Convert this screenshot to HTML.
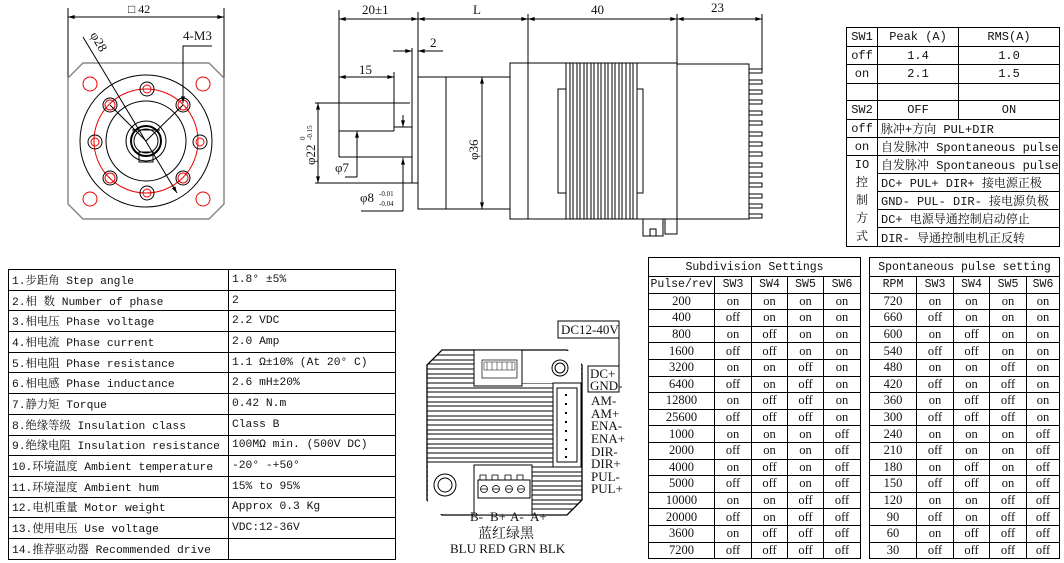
<!DOCTYPE html>
<html><head><meta charset="utf-8"><style>
body{margin:0;width:1064px;height:563px;background:#fff;position:relative;overflow:hidden;font-family:"Liberation Mono","Noto Serif CJK SC",monospace;}
table{position:absolute;border-collapse:collapse;table-layout:fixed;}
td{border:1px solid #000;padding:0;white-space:nowrap;overflow:hidden;color:#111;}
.sp td{font-size:11.3px;padding-left:3px;height:19.7px;}
.tr td{font-size:12px;text-align:center;}
.sub td{text-align:center;height:15.6px;font-family:"Liberation Serif","Noto Serif CJK SC",serif;font-size:12.5px;}
.sub tr.h td{font-family:"Liberation Mono",monospace;font-size:11.5px;}
svg{position:absolute;left:0;top:0;}
svg text{font-family:"Liberation Serif","Noto Serif CJK SC",serif;fill:#111;}
</style></head><body>
<svg width="1064" height="563" viewBox="0 0 1064 563">
<defs>
<marker id="a" viewBox="0 0 10 6" refX="10" refY="3" markerWidth="8" markerHeight="4" orient="auto-start-reverse"><path d="M0,0L10,3L0,6z" fill="#000"/></marker>
<clipPath id="drv"><path d="M442,350H567L582,365V500L567,515H442L427,500V365Z"/></clipPath>
</defs>
<g stroke="#000" fill="none" stroke-width="1">
<line x1="68" y1="8" x2="68" y2="78"/><line x1="224" y1="8" x2="224" y2="78"/>
<line x1="68" y1="17" x2="224" y2="17" marker-start="url(#a)" marker-end="url(#a)"/>
<path d="M83,63H209L224,78V204L209,219H83L68,204V78Z" stroke="#888" stroke-width="1.5"/>
<circle cx="146" cy="141" r="66"/><circle cx="146" cy="141" r="40"/>
<circle cx="146" cy="141" r="52" stroke="#e00"/>
<circle cx="146" cy="141" r="20"/><circle cx="146" cy="141" r="15" stroke-width="2"/><circle cx="146" cy="141" r="12"/>
<rect x="139" y="152" width="14" height="10"/>
<g stroke="#e00"><circle cx="90" cy="84" r="7"/><circle cx="203" cy="84" r="7"/><circle cx="90" cy="199" r="7"/><circle cx="203" cy="199" r="7"/>
<circle cx="110" cy="105" r="5"/><circle cx="183" cy="105" r="5"/><circle cx="110" cy="178" r="5"/><circle cx="183" cy="178" r="5"/>
<circle cx="147" cy="89" r="4"/><circle cx="147" cy="193" r="4"/><circle cx="95" cy="142" r="4"/><circle cx="200" cy="142" r="4"/></g>
<circle cx="110" cy="105" r="7"/><circle cx="183" cy="105" r="7"/><circle cx="110" cy="178" r="7"/><circle cx="183" cy="178" r="7"/>
<circle cx="147" cy="89" r="7"/><circle cx="147" cy="193" r="7"/><circle cx="95" cy="142" r="7"/><circle cx="200" cy="142" r="7"/>
<line x1="83" y1="37" x2="177" y2="193" marker-end="url(#a)"/>
<line x1="110" y1="105" x2="146" y2="141"/><line x1="183" y1="105" x2="146" y2="141"/><line x1="132" y1="130" x2="160" y2="130"/>
<path d="M212,46H183V103" marker-end="url(#a)"/>
<line x1="339" y1="10" x2="339" y2="157"/><line x1="418" y1="12" x2="418" y2="209"/><line x1="528" y1="14" x2="528" y2="219"/><line x1="677" y1="14" x2="677" y2="219"/><line x1="762" y1="14" x2="762" y2="69"/>
<line x1="339" y1="19" x2="418" y2="19" marker-start="url(#a)" marker-end="url(#a)"/>
<line x1="418" y1="19" x2="528" y2="19" marker-start="url(#a)" marker-end="url(#a)"/>
<line x1="528" y1="19" x2="677" y2="19" marker-start="url(#a)" marker-end="url(#a)"/>
<line x1="677" y1="19" x2="762" y2="19" marker-start="url(#a)" marker-end="url(#a)"/>
<line x1="393" y1="51" x2="412" y2="51" marker-end="url(#a)"/><line x1="443" y1="51" x2="418" y2="51" marker-end="url(#a)"/>
<line x1="412" y1="48" x2="412" y2="183"/>
<line x1="339" y1="77" x2="394" y2="77" marker-start="url(#a)" marker-end="url(#a)"/>
<line x1="394" y1="72" x2="394" y2="131"/>
<line x1="330" y1="103" x2="410" y2="103"/><line x1="339" y1="131" x2="394" y2="131"/><line x1="339" y1="157" x2="412" y2="157"/><line x1="330" y1="183" x2="418" y2="183"/>
<line x1="357" y1="160" x2="357" y2="131" marker-end="url(#a)"/><line x1="357" y1="160" x2="357" y2="177"/><line x1="345" y1="177" x2="357" y2="177"/>
<line x1="403" y1="115" x2="403" y2="127" marker-end="url(#a)"/><line x1="403" y1="211" x2="403" y2="158" marker-end="url(#a)"/><line x1="361" y1="211" x2="403" y2="211"/>
<line x1="394" y1="127" x2="412" y2="127"/>
<line x1="318" y1="103" x2="318" y2="183" marker-start="url(#a)" marker-end="url(#a)"/><line x1="315" y1="103" x2="330" y2="103"/><line x1="315" y1="183" x2="330" y2="183"/>
<rect x="418" y="77" width="92" height="132"/><line x1="446" y1="77" x2="446" y2="209"/>
<line x1="482" y1="77" x2="482" y2="209" marker-start="url(#a)" marker-end="url(#a)"/>
<rect x="510" y="63" width="167" height="156"/>
<path d="M566,63V219M570,63V219M573,63V219M577,63V219M580,63V219M584,63V219M587,63V219M591,63V219M594,63V219M598,63V219M601,63V219M605,63V219M608,63V219M612,63V219M615,63V219M619,63V219M622,63V219M626,63V219M630,63V219M633,63V219M637,63V219"/>
<rect x="558" y="89" width="8" height="104"/><rect x="637" y="89" width="6" height="104"/>
<rect x="677" y="64" width="72" height="155"/>
<path d="M749,69h13v4h-13M749,80h13v4h-13M749,90h13v4h-13M749,100h13v4h-13M749,111h13v4h-13M749,121h13v4h-13M749,132h13v4h-13M749,142h13v4h-13M749,152h13v4h-13M749,163h13v4h-13M749,173h13v4h-13M749,183h13v4h-13M749,194h13v4h-13M749,204h13v4h-13M749,214h13v4h-13"/>
<path d="M643,219V236H663V219M650,236V229H656V236"/><rect x="665" y="219" width="12" height="15"/>
<path d="M442,350H567L582,365V500L567,515H442L427,500V365Z" stroke-width="1.3"/>
<g clip-path="url(#drv)" stroke-width="0.9">
<path d="M427,355H582M427,360H582M427,364H582M427,369H582M427,374H582M427,378H582M427,383H582M427,388H582M427,392H582M427,397H582M427,402H582M427,406H582M427,411H582M427,416H582M427,420H582M427,425H582M427,430H582M427,434H582M427,439H582M427,444H582M427,448H582M427,453H582M427,458H582M427,462H582M427,467H582M427,472H582M427,476H582M427,481H582M427,486H582M427,490H582M427,495H582M427,500H582M427,504H582M427,509H582"/>
</g>
<rect x="522" y="351" width="59" height="32" fill="#fff" stroke="none"/>
<rect x="428" y="465" width="46" height="49" fill="#fff" stroke="none"/>
<rect x="474" y="350" width="48" height="36" fill="#fff"/>
<rect x="482" y="360" width="35" height="18" fill="#fff" stroke-width="0.7"/>
<path d="M484,362h31v8h-31z" stroke-width="0.5"/>
<path d="M487,362v8M492,362v8M497,362v8M502,362v8M507,362v8M512,362v8" stroke-width="0.5"/>
<rect x="474" y="465" width="58" height="50" fill="#fff"/>
<rect x="478" y="480" width="52" height="18"/>
<path d="M480,480v-5h6v5M492,480v-5h6v5M505,480v-5h6v5M517,480v-5h6v5" stroke-width="0.8"/>
<g stroke-width="0.8"><circle cx="484" cy="489" r="3.5"/><circle cx="496" cy="489" r="3.5"/><circle cx="509" cy="489" r="3.5"/><circle cx="521" cy="489" r="3.5"/>
<path d="M481,489h6M493,489h6M506,489h6M518,489h6"/></g>
<circle cx="560" cy="368" r="8"/><circle cx="560" cy="368" r="5"/>
<circle cx="445" cy="485" r="11"/><circle cx="445" cy="485" r="7"/>
<rect x="553" y="383" width="28" height="84" fill="#fff"/><rect x="557" y="388" width="20" height="74"/>
<path d="M566,394v2M566,403v2M566,412v2M566,421v2M566,430v2M566,439v2M566,448v2M566,456v2" stroke-width="2"/>
<rect x="558" y="321" width="61" height="17"/><line x1="619" y1="338" x2="619" y2="366"/>
<rect x="588" y="366" width="31" height="26"/>
</g>
<g font-size="13">
<text x="128" y="13" font-size="12">□ 42</text>
<text x="0" y="0" transform="translate(90,35) rotate(60)">φ28</text>
<text x="183" y="40">4-M3</text>
<text x="362" y="14">20±1</text><text x="473" y="14">L</text><text x="591" y="14">40</text><text x="711" y="12">23</text>
<text x="430" y="47">2</text><text x="359" y="74">15</text>
<text x="335" y="172">φ7</text>
<text x="360" y="202">φ8</text><text x="379" y="196" font-size="7">-0.01</text><text x="379" y="206" font-size="7">-0.04</text>
<text transform="translate(478,160) rotate(-90)">φ36</text>
<text transform="translate(315,165) rotate(-90)">φ22</text><text transform="translate(305,140) rotate(-90)" font-size="7">0</text><text transform="translate(312,140) rotate(-90)" font-size="7">-0.15</text>
<text x="561" y="334" font-size="13">DC12-40V</text>
<g font-size="13"><text x="590" y="378">DC+</text><text x="590" y="390">GND-</text>
<text x="591" y="405">AM-</text><text x="591" y="418">AM+</text><text x="591" y="430">ENA-</text><text x="591" y="443">ENA+</text><text x="591" y="456">DIR-</text><text x="591" y="468">DIR+</text><text x="591" y="481">PUL-</text><text x="591" y="493">PUL+</text>
<text x="470" y="521">B-</text><text x="490" y="521">B+</text><text x="510" y="521">A-</text><text x="530" y="521">A+</text>
<text x="478" y="538" font-size="14">蓝红绿黑</text>
<text x="450" y="553">BLU RED GRN BLK</text></g>
</g>
</svg>

<table class="tr" style="left:846px;top:27px;width:213px;">
<colgroup><col style="width:31px"><col style="width:81px"><col style="width:101px"></colgroup>
<tr style="height:19px"><td>SW1</td><td>Peak (A)</td><td>RMS(A)</td></tr>
<tr style="height:18px"><td>off</td><td>1.4</td><td>1.0</td></tr>
<tr style="height:19px"><td>on</td><td>2.1</td><td>1.5</td></tr>
<tr style="height:17px"><td></td><td></td><td></td></tr>
<tr style="height:19px"><td>SW2</td><td>OFF</td><td>ON</td></tr>
<tr style="height:18px"><td>off</td><td colspan="2" style="text-align:left;padding-left:3px">脉冲+方向 PUL+DIR</td></tr>
<tr style="height:18px"><td>on</td><td colspan="2" style="text-align:left;padding-left:3px">自发脉冲 Spontaneous pulse</td></tr>
<tr style="height:18px"><td rowspan="5" style="line-height:18px;white-space:normal">IO<br>控<br>制<br>方<br>式</td><td colspan="2" style="text-align:left;padding-left:3px">自发脉冲 Spontaneous pulse</td></tr>
<tr style="height:18px"><td colspan="2" style="text-align:left;padding-left:3px">DC+  PUL+ DIR+ 接电源正极</td></tr>
<tr style="height:18px"><td colspan="2" style="text-align:left;padding-left:3px">GND- PUL- DIR- 接电源负极</td></tr>
<tr style="height:18px"><td colspan="2" style="text-align:left;padding-left:3px">DC+  电源导通控制启动停止</td></tr>
<tr style="height:19px"><td colspan="2" style="text-align:left;padding-left:3px">DIR- 导通控制电机正反转</td></tr>
</table>

<table class="sp" style="left:8px;top:269px;width:387px;">
<colgroup><col style="width:220px"><col style="width:167px"></colgroup>
<tr><td>1.步距角 Step angle</td><td>1.8° ±5%</td></tr>
<tr><td>2.相  数 Number of phase</td><td>2</td></tr>
<tr><td>3.相电压 Phase voltage</td><td>2.2 VDC</td></tr>
<tr><td>4.相电流 Phase current</td><td>2.0 Amp</td></tr>
<tr><td>5.相电阻 Phase resistance</td><td>1.1 Ω±10% (At 20° C)</td></tr>
<tr><td>6.相电感 Phase inductance</td><td>2.6 mH±20%</td></tr>
<tr><td>7.静力矩 Torque</td><td>0.42 N.m</td></tr>
<tr><td>8.绝缘等级 Insulation class</td><td>Class B</td></tr>
<tr><td>9.绝缘电阻 Insulation resistance</td><td>100MΩ min. (500V DC)</td></tr>
<tr><td>10.环境温度 Ambient temperature</td><td>-20° -+50°</td></tr>
<tr><td>11.环境湿度 Ambient hum</td><td>15% to 95%</td></tr>
<tr><td>12.电机重量 Motor weight</td><td>Approx 0.3 Kg</td></tr>
<tr><td>13.使用电压 Use voltage</td><td>VDC:12-36V</td></tr>
<tr><td>14.推荐驱动器 Recommended drive</td><td></td></tr>
</table>

<table class="sub" style="left:648px;top:257px;width:212px;">
<colgroup><col style="width:66px"><col style="width:37px"><col style="width:36px"><col style="width:36px"><col style="width:37px"></colgroup>
<tr class="h" style="height:19px"><td colspan="5">Subdivision Settings</td></tr>
<tr class="h"><td>Pulse/rev</td><td>SW3</td><td>SW4</td><td>SW5</td><td>SW6</td></tr>
<tr><td>200</td><td>on</td><td>on</td><td>on</td><td>on</td></tr>
<tr><td>400</td><td>off</td><td>on</td><td>on</td><td>on</td></tr>
<tr><td>800</td><td>on</td><td>off</td><td>on</td><td>on</td></tr>
<tr><td>1600</td><td>off</td><td>off</td><td>on</td><td>on</td></tr>
<tr><td>3200</td><td>on</td><td>on</td><td>off</td><td>on</td></tr>
<tr><td>6400</td><td>off</td><td>on</td><td>off</td><td>on</td></tr>
<tr><td>12800</td><td>on</td><td>off</td><td>off</td><td>on</td></tr>
<tr><td>25600</td><td>off</td><td>off</td><td>off</td><td>on</td></tr>
<tr><td>1000</td><td>on</td><td>on</td><td>on</td><td>off</td></tr>
<tr><td>2000</td><td>off</td><td>on</td><td>on</td><td>off</td></tr>
<tr><td>4000</td><td>on</td><td>off</td><td>on</td><td>off</td></tr>
<tr><td>5000</td><td>off</td><td>off</td><td>on</td><td>off</td></tr>
<tr><td>10000</td><td>on</td><td>on</td><td>off</td><td>off</td></tr>
<tr><td>20000</td><td>off</td><td>on</td><td>off</td><td>off</td></tr>
<tr><td>3600</td><td>on</td><td>off</td><td>off</td><td>off</td></tr>
<tr><td>7200</td><td>off</td><td>off</td><td>off</td><td>off</td></tr>
</table>

<table class="sub" style="left:869px;top:257px;width:190px;">
<colgroup><col style="width:47px"><col style="width:37px"><col style="width:36px"><col style="width:37px"><col style="width:33px"></colgroup>
<tr class="h" style="height:19px"><td colspan="5">Spontaneous pulse setting</td></tr>
<tr class="h"><td>RPM</td><td>SW3</td><td>SW4</td><td>SW5</td><td>SW6</td></tr>
<tr><td>720</td><td>on</td><td>on</td><td>on</td><td>on</td></tr>
<tr><td>660</td><td>off</td><td>on</td><td>on</td><td>on</td></tr>
<tr><td>600</td><td>on</td><td>off</td><td>on</td><td>on</td></tr>
<tr><td>540</td><td>off</td><td>off</td><td>on</td><td>on</td></tr>
<tr><td>480</td><td>on</td><td>on</td><td>off</td><td>on</td></tr>
<tr><td>420</td><td>off</td><td>on</td><td>off</td><td>on</td></tr>
<tr><td>360</td><td>on</td><td>off</td><td>off</td><td>on</td></tr>
<tr><td>300</td><td>off</td><td>off</td><td>off</td><td>on</td></tr>
<tr><td>240</td><td>on</td><td>on</td><td>on</td><td>off</td></tr>
<tr><td>210</td><td>off</td><td>on</td><td>on</td><td>off</td></tr>
<tr><td>180</td><td>on</td><td>off</td><td>on</td><td>off</td></tr>
<tr><td>150</td><td>off</td><td>off</td><td>on</td><td>off</td></tr>
<tr><td>120</td><td>on</td><td>on</td><td>off</td><td>off</td></tr>
<tr><td>90</td><td>off</td><td>on</td><td>off</td><td>off</td></tr>
<tr><td>60</td><td>on</td><td>off</td><td>off</td><td>off</td></tr>
<tr><td>30</td><td>off</td><td>off</td><td>off</td><td>off</td></tr>
</table>
</body></html>
